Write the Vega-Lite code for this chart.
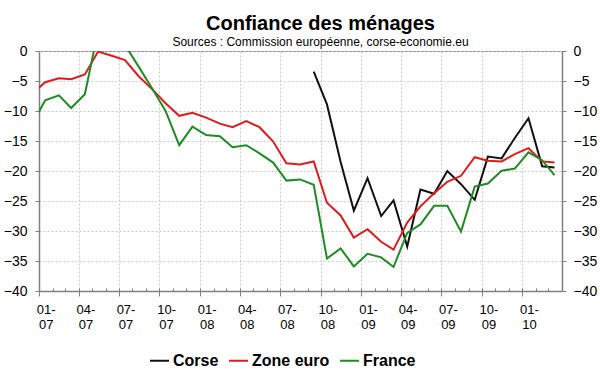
{
  "$schema": "https://vega.github.io/schema/vega-lite/v6.json",
  "width": 523,
  "height": 240,
  "autosize": {"type": "none"},
  "padding": {"left": 39, "top": 51, "right": 38, "bottom": 81},
  "background": "white",
  "config": {
    "font": "Liberation Sans",
    "view": {"stroke": "#808080", "strokeWidth": 1}
  },
  "title": {
    "text": "Confiance des ménages",
    "subtitle": "Sources : Commission européenne, corse-economie.eu",
    "font": "Liberation Sans",
    "fontSize": 20,
    "fontWeight": "bold",
    "color": "black",
    "subtitleFont": "Liberation Sans",
    "subtitleFontSize": 12,
    "subtitleColor": "black",
    "anchor": "middle",
    "dx": 20,
    "offset": -4,
    "subtitlePadding": 3
  },
  "data": {
    "values": [
      {"mois": "2006-12-15", "Corse": null, "Zone euro": -7.2, "France": -12.4},
      {"mois": "2007-01-15", "Corse": null, "Zone euro": -5.2, "France": -8.2},
      {"mois": "2007-02-15", "Corse": null, "Zone euro": -4.55, "France": -7.4},
      {"mois": "2007-03-15", "Corse": null, "Zone euro": -4.7, "France": -9.5},
      {"mois": "2007-04-15", "Corse": null, "Zone euro": -3.9, "France": -7.2},
      {"mois": "2007-05-15", "Corse": null, "Zone euro": -0.1, "France": 3.4},
      {"mois": "2007-06-15", "Corse": null, "Zone euro": -0.8, "France": 4.0},
      {"mois": "2007-07-15", "Corse": null, "Zone euro": -1.5, "France": 1.0},
      {"mois": "2007-08-15", "Corse": null, "Zone euro": -4.2, "France": -2.6},
      {"mois": "2007-09-15", "Corse": null, "Zone euro": -6.4, "France": -6.3},
      {"mois": "2007-10-15", "Corse": null, "Zone euro": -8.7, "France": -10.0},
      {"mois": "2007-11-15", "Corse": null, "Zone euro": -10.8, "France": -15.7},
      {"mois": "2007-12-15", "Corse": null, "Zone euro": -10.3, "France": -12.6},
      {"mois": "2008-01-15", "Corse": null, "Zone euro": -11.1, "France": -14.0},
      {"mois": "2008-02-15", "Corse": null, "Zone euro": -12.1, "France": -14.2},
      {"mois": "2008-03-15", "Corse": null, "Zone euro": -12.7, "France": -16.05},
      {"mois": "2008-04-15", "Corse": null, "Zone euro": -11.7, "France": -15.7},
      {"mois": "2008-05-15", "Corse": null, "Zone euro": -12.7, "France": -17.05},
      {"mois": "2008-06-15", "Corse": null, "Zone euro": -15.1, "France": -18.6},
      {"mois": "2008-07-15", "Corse": null, "Zone euro": -18.7, "France": -21.6},
      {"mois": "2008-08-15", "Corse": null, "Zone euro": -18.9, "France": -21.4},
      {"mois": "2008-09-15", "Corse": -3.45, "Zone euro": -18.4, "France": -22.3},
      {"mois": "2008-10-15", "Corse": -8.9, "Zone euro": -25.3, "France": -34.6},
      {"mois": "2008-11-15", "Corse": -18.5, "Zone euro": -27.4, "France": -32.9},
      {"mois": "2008-12-15", "Corse": -26.6, "Zone euro": -31.1, "France": -35.9},
      {"mois": "2009-01-15", "Corse": -21.2, "Zone euro": -29.7, "France": -33.8},
      {"mois": "2009-02-15", "Corse": -27.5, "Zone euro": -31.8, "France": -34.4},
      {"mois": "2009-03-15", "Corse": -24.9, "Zone euro": -33.1, "France": -36.0},
      {"mois": "2009-04-15", "Corse": -32.6, "Zone euro": -28.6, "France": -30.3},
      {"mois": "2009-05-15", "Corse": -23.1, "Zone euro": -25.9, "France": -28.9},
      {"mois": "2009-06-15", "Corse": -23.8, "Zone euro": -23.7, "France": -25.8},
      {"mois": "2009-07-15", "Corse": -20.0, "Zone euro": -21.8, "France": -25.8},
      {"mois": "2009-08-15", "Corse": -22.2, "Zone euro": -20.8, "France": -30.1},
      {"mois": "2009-09-15", "Corse": -24.8, "Zone euro": -17.7, "France": -22.6},
      {"mois": "2009-10-15", "Corse": -17.6, "Zone euro": -18.3, "France": -22.1},
      {"mois": "2009-11-15", "Corse": -17.9, "Zone euro": -18.4, "France": -19.95},
      {"mois": "2009-12-15", "Corse": -14.5, "Zone euro": -17.2, "France": -19.6},
      {"mois": "2010-01-15", "Corse": -11.2, "Zone euro": -16.2, "France": -16.9},
      {"mois": "2010-02-15", "Corse": -19.2, "Zone euro": -18.4, "France": -18.2},
      {"mois": "2010-03-15", "Corse": -19.4, "Zone euro": -18.6, "France": -20.7}
    ]
  },
  "transform": [
    {"fold": ["Corse", "Zone euro", "France"], "as": ["serie", "valeur"]}
  ],
  "layer": [
    {
      "mark": {"type": "line", "strokeWidth": 2, "clip": true},
      "encoding": {
        "x": {
          "field": "mois",
          "type": "temporal",
          "scale": {
            "type": "utc",
            "domain": [
              {"year": 2007, "month": 1, "date": 1, "utc": true},
              {"year": 2010, "month": 4, "date": 1, "utc": true}
            ],
            "nice": false
          },
          "axis": {
            "orient": "bottom",
            "title": null,
            "values": [
              {"year": 2007, "month": 1, "date": 1, "utc": true},
              {"year": 2007, "month": 4, "date": 1, "utc": true},
              {"year": 2007, "month": 7, "date": 1, "utc": true},
              {"year": 2007, "month": 10, "date": 1, "utc": true},
              {"year": 2008, "month": 1, "date": 1, "utc": true},
              {"year": 2008, "month": 4, "date": 1, "utc": true},
              {"year": 2008, "month": 7, "date": 1, "utc": true},
              {"year": 2008, "month": 10, "date": 1, "utc": true},
              {"year": 2009, "month": 1, "date": 1, "utc": true},
              {"year": 2009, "month": 4, "date": 1, "utc": true},
              {"year": 2009, "month": 7, "date": 1, "utc": true},
              {"year": 2009, "month": 10, "date": 1, "utc": true},
              {"year": 2010, "month": 1, "date": 1, "utc": true}
            ],
            "labelExpr": "[utcFormat(datum.value, '%m-'), utcFormat(datum.value, '%y')]",
            "labelAlign": "center",
            "labelBaseline": "top",
            "labelOffset": 6.7,
            "labelPadding": 7,
            "labelFontSize": 13,
            "labelColor": "black",
            "labelLineHeight": 15,
            "labelOverlap": false,
            "labelFlush": false,
            "tickSize": 5,
            "tickColor": "#808080",
            "domainColor": "#808080",
            "domainWidth": 1.5,
            "grid": true,
            "gridColor": "#c8c8c8",
            "gridDash": [2, 2]
          }
        },
        "y": {
          "field": "valeur",
          "type": "quantitative",
          "scale": {"domain": [-40, 0], "nice": false, "zero": false},
          "axis": {
            "orient": "left",
            "title": null,
            "values": [-40, -35, -30, -25, -20, -15, -10, -5, 0],
            "labelFontSize": 14,
            "labelColor": "black",
            "labelPadding": 8,
            "tickSize": 4,
            "tickColor": "#808080",
            "domainColor": "#808080",
            "domainWidth": 1.5,
            "grid": true,
            "gridColor": "#c8c8c8",
            "gridDash": [2, 2]
          }
        },
        "color": {
          "field": "serie",
          "type": "nominal",
          "scale": {
            "domain": ["Corse", "Zone euro", "France"],
            "range": ["#111111", "#e31a1c", "#1f8c23"]
          },
          "legend": {
            "title": null,
            "orient": "none",
            "legendX": 110,
            "legendY": 299,
            "direction": "horizontal",
            "symbolType": "stroke",
            "symbolSize": 361,
            "symbolStrokeWidth": 2,
            "labelFontSize": 16,
            "labelFontWeight": "bold",
            "labelColor": "black",
            "labelOffset": 3,
            "columnPadding": 6
          }
        }
      }
    },
    {
      "mark": {"type": "line", "strokeOpacity": 0, "clip": true},
      "encoding": {
        "x": {
          "field": "mois",
          "type": "temporal",
          "scale": {
            "type": "utc",
            "domain": [
              {"year": 2007, "month": 1, "date": 1, "utc": true},
              {"year": 2010, "month": 4, "date": 1, "utc": true}
            ],
            "nice": false
          },
          "axis": {
            "orient": "bottom",
            "title": null,
            "tickCount": {"interval": "month", "step": 1},
            "labels": false,
            "domain": false,
            "grid": false,
            "tickSize": -3,
            "tickColor": "#808080"
          }
        },
        "y": {
          "field": "valeur",
          "type": "quantitative",
          "scale": {"domain": [-40, 0], "nice": false, "zero": false},
          "axis": {
            "orient": "right",
            "title": null,
            "values": [-40, -35, -30, -25, -20, -15, -10, -5, 0],
            "labelFontSize": 14,
            "labelColor": "black",
            "labelPadding": 7,
            "tickSize": 4,
            "tickColor": "#808080",
            "domainColor": "#808080",
            "domainWidth": 1.5,
            "grid": false
          }
        },
        "detail": {"field": "serie", "type": "nominal"}
      }
    }
  ],
  "resolve": {"axis": {"x": "independent", "y": "independent"}}
}
